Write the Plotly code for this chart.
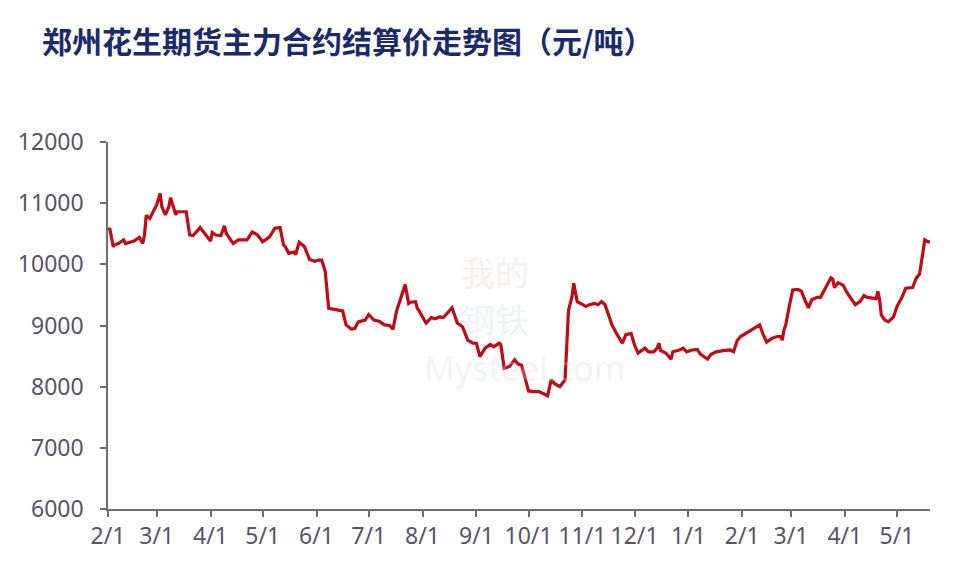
import plotly.graph_objects as go

dates = [
    "2021-02-01", "2021-02-02", "2021-02-04", "2021-02-05", "2021-02-07", "2021-02-10", "2021-02-11",
    "2021-02-16", "2021-02-19", "2021-02-21", "2021-02-22", "2021-02-23", "2021-02-25", "2021-02-27",
    "2021-02-28", "2021-03-01", "2021-03-03", "2021-03-04", "2021-03-06", "2021-03-08", "2021-03-09",
    "2021-03-11", "2021-03-12", "2021-03-13", "2021-03-18", "2021-03-20", "2021-03-22", "2021-03-26",
    "2021-03-28", "2021-04-01", "2021-04-02", "2021-04-04", "2021-04-07", "2021-04-09", "2021-04-10",
    "2021-04-14", "2021-04-17", "2021-04-22", "2021-04-25", "2021-04-28", "2021-05-01", "2021-05-05",
    "2021-05-08", "2021-05-11", "2021-05-13", "2021-05-14", "2021-05-16", "2021-05-19", "2021-05-20",
    "2021-05-22", "2021-05-25", "2021-05-28", "2021-05-31", "2021-06-02", "2021-06-04", "2021-06-06",
    "2021-06-08", "2021-06-13", "2021-06-16", "2021-06-18", "2021-06-21", "2021-06-23", "2021-06-25",
    "2021-06-29", "2021-07-01", "2021-07-04", "2021-07-07", "2021-07-10", "2021-07-13", "2021-07-15",
    "2021-07-17", "2021-07-22", "2021-07-24", "2021-07-25", "2021-07-28", "2021-07-29", "2021-07-30",
    "2021-08-03", "2021-08-06", "2021-08-08", "2021-08-11", "2021-08-13", "2021-08-16", "2021-08-18",
    "2021-08-21", "2021-08-24", "2021-08-27", "2021-08-30", "2021-09-01", "2021-09-03", "2021-09-06",
    "2021-09-09", "2021-09-11", "2021-09-14", "2021-09-15", "2021-09-17", "2021-09-20", "2021-09-23",
    "2021-09-25", "2021-09-27", "2021-09-29", "2021-10-01", "2021-10-04", "2021-10-07", "2021-10-10",
    "2021-10-12", "2021-10-14", "2021-10-16", "2021-10-19", "2021-10-22", "2021-10-24", "2021-10-26",
    "2021-10-27", "2021-10-29", "2021-10-31", "2021-11-03", "2021-11-05", "2021-11-08", "2021-11-10",
    "2021-11-12", "2021-11-14", "2021-11-18", "2021-11-21", "2021-11-24", "2021-11-26", "2021-11-29",
    "2021-12-01", "2021-12-03", "2021-12-07", "2021-12-09", "2021-12-12", "2021-12-14", "2021-12-15",
    "2021-12-16", "2021-12-19", "2021-12-22", "2021-12-23", "2021-12-26", "2021-12-29", "2021-12-31",
    "2022-01-03", "2022-01-06", "2022-01-08", "2022-01-12", "2022-01-14", "2022-01-17", "2022-01-21",
    "2022-01-25", "2022-01-27", "2022-01-29", "2022-01-31", "2022-02-04", "2022-02-08", "2022-02-11",
    "2022-02-13", "2022-02-15", "2022-02-18", "2022-02-21", "2022-02-23", "2022-02-24", "2022-02-25",
    "2022-02-26", "2022-02-28", "2022-03-02", "2022-03-05", "2022-03-07", "2022-03-09", "2022-03-11",
    "2022-03-13", "2022-03-16", "2022-03-18", "2022-03-20", "2022-03-22", "2022-03-24", "2022-03-25",
    "2022-03-26", "2022-03-28", "2022-03-31", "2022-04-02", "2022-04-05", "2022-04-07", "2022-04-10",
    "2022-04-12", "2022-04-14", "2022-04-17", "2022-04-19", "2022-04-20", "2022-04-21", "2022-04-22",
    "2022-04-24", "2022-04-26", "2022-04-29", "2022-05-01", "2022-05-04", "2022-05-06", "2022-05-10",
    "2022-05-12", "2022-05-14", "2022-05-16", "2022-05-17", "2022-05-18", "2022-05-20",
]

prices = [
    10560, 10590, 10290, 10320, 10340, 10400, 10340,
    10380, 10440, 10340, 10480, 10800, 10750, 10860,
    10890, 10970, 11160, 10940, 10810, 10940, 11090,
    10920, 10810, 10860, 10860, 10480, 10470, 10600,
    10530, 10380, 10520, 10480, 10470, 10630, 10510,
    10340, 10400, 10400, 10530, 10480, 10370, 10450,
    10590, 10600, 10320, 10290, 10180, 10200, 10160,
    10360, 10290, 10080, 10050, 10070, 10070, 9880,
    9280, 9250, 9240, 9010, 8940, 8950, 9060,
    9090, 9180, 9090, 9070, 9010, 9000, 8940,
    9230, 9670, 9360, 9380, 9390, 9280, 9240,
    9040, 9130, 9110, 9140, 9130, 9220, 9290,
    9040, 8980, 8760, 8710, 8710, 8490, 8630,
    8690, 8650, 8710, 8690, 8300, 8330, 8440,
    8370, 8350, 8140, 7930, 7920, 7920, 7880,
    7850, 8110, 8050, 8000, 8110, 9250, 9470,
    9690, 9390, 9360, 9310, 9340, 9360, 9340,
    9390, 9340, 9010, 8850, 8710, 8850, 8870,
    8680, 8550, 8630, 8570, 8570, 8630, 8710,
    8590, 8550, 8450, 8570, 8590, 8630, 8570,
    8600, 8610, 8530, 8450, 8530, 8570, 8590,
    8600, 8570, 8750, 8820, 8890, 8960, 9010,
    8850, 8730, 8790, 8820, 8820, 8760, 8930,
    9010, 9310, 9580, 9590, 9560, 9420, 9290,
    9420, 9460, 9460, 9560, 9670, 9780, 9760,
    9620, 9700, 9660, 9550, 9420, 9340, 9400,
    9490, 9460, 9440, 9440, 9560, 9420, 9170,
    9090, 9060, 9140, 9310, 9470, 9610, 9620,
    9770, 9840, 10210, 10400, 10380, 10360,
]

tick_dates = [
    "2021-02-01", "2021-03-01", "2021-04-01", "2021-05-01", "2021-06-01", "2021-07-01",
    "2021-08-01", "2021-09-01", "2021-10-01", "2021-11-01", "2021-12-01", "2022-01-01",
    "2022-02-01", "2022-03-01", "2022-04-01", "2022-05-01",
]
tick_labels = ["2/1", "3/1", "4/1", "5/1", "6/1", "7/1", "8/1", "9/1", "10/1", "11/1",
               "12/1", "1/1", "2/1", "3/1", "4/1", "5/1"]
y_ticks = [6000, 7000, 8000, 9000, 10000, 11000, 12000]
y_labels = ["6000", "7000", "8000", "9000", "10000", "11000", "12000"]

title_text = "郑州花生期货主力合约结算价走势图（元/吨）"

axis_color = "#6e6880"
label_color = "#5a5268"

fig = go.Figure()
fig.add_trace(go.Scatter(
    x=dates, y=prices, mode="lines",
    line=dict(color="#C00A14", width=3.2),
    hoverinfo="x+y", showlegend=False,
))

# faint watermark
fig.add_annotation(text="我的", x=0.471, y=0.646, xref="paper", yref="paper",
                   showarrow=False, font=dict(size=34, color="rgba(230,200,200,0.3)",
                                              family="Noto Sans CJK SC"))
fig.add_annotation(text="钢铁", x=0.471, y=0.52, xref="paper", yref="paper",
                   showarrow=False, font=dict(size=34, color="rgba(200,210,230,0.3)",
                                              family="Noto Sans CJK SC"))
fig.add_annotation(text="Mysteel.com", x=0.507, y=0.384, xref="paper", yref="paper",
                   showarrow=False, font=dict(size=34, color="rgba(210,215,228,0.3)",
                                              family="Noto Sans"))

fig.update_layout(
    width=960, height=576,
    margin=dict(l=100, r=38, t=134, b=75),
    paper_bgcolor="white", plot_bgcolor="white",
    title=dict(text=title_text, x=34 / 960, xref="container", xanchor="left",
               y=1 - 34 / 576, yref="container", yanchor="middle",
               pad=dict(l=0, r=0, t=0, b=0),
               font=dict(family="Noto Sans CJK SC", size=30, color="#1b2a6b", weight="bold")),
    font=dict(family="Noto Sans", size=23, color=label_color),
)
fig.update_xaxes(
    type="date", range=["2021-02-01", "2022-05-20"],
    tickvals=tick_dates, ticktext=tick_labels,
    showgrid=False, zeroline=False, automargin=False,
    showline=True, linecolor=axis_color, linewidth=1.5,
    ticks="outside", ticklen=6, tickcolor=axis_color, tickwidth=1.5,
    ticklabelstandoff=0,
    tickfont=dict(family="Noto Sans", size=23, color=label_color),
)
fig.update_yaxes(
    range=[6000, 12000], tickvals=y_ticks, ticktext=y_labels,
    showgrid=False, zeroline=False, automargin=False,
    showline=True, linecolor=axis_color, linewidth=1.5,
    ticks="outside", ticklen=6, tickcolor=axis_color, tickwidth=1.5,
    ticklabelstandoff=12,
    tickfont=dict(family="Noto Sans", size=23, color=label_color),
)

fig.write_html("out.html")
